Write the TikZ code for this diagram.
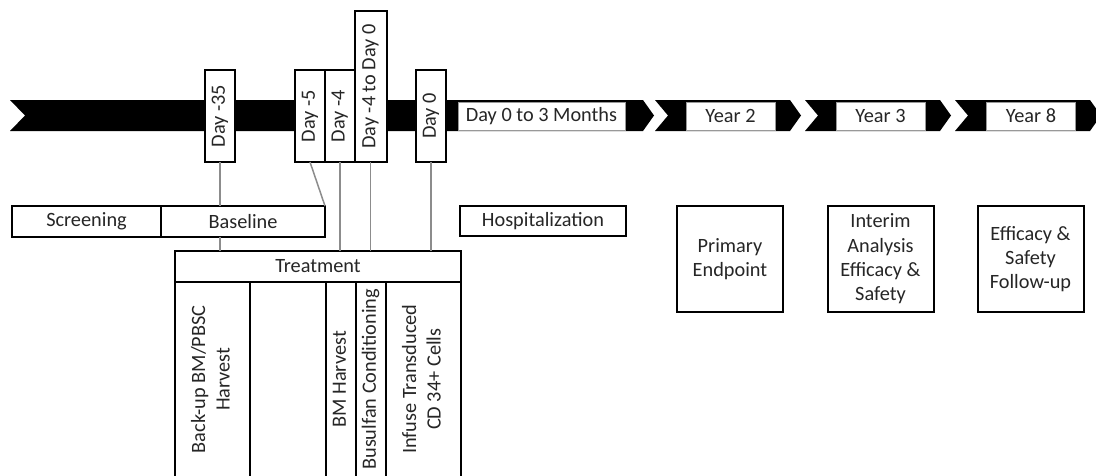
\documentclass[tikz,border=0pt]{standalone}
\usepackage{fontspec}
\setmainfont{Carlito}
\usepackage{graphicx}
\usetikzlibrary{positioning}

\newcommand{\vtext}[1]{\rotatebox{90}{\begin{tabular}{@{}c@{}}#1\end{tabular}}}

\begin{document}
\begin{tikzpicture}[x=1pt, y=-1pt,
    every node/.style={font=\fontsize{20.3}{24.3}\selectfont, text=black!85, inner sep=0pt},
    box/.style={draw, line width=2pt, outer sep=0pt, fill=white, minimum height=30pt},
    daybox/.style={box, minimum width=30pt, minimum height=92pt},
    bandbox/.style={draw=black!40, line width=1pt, fill=white, minimum height=28pt},
    col/.style={box, minimum height=194.5pt, anchor=north},
    link/.style={draw=black!45, line width=1.5pt}]
    \useasboundingbox (0,0) rectangle (1096,475);
    \fill (10,100) -- (643,100) -- (654,115.5) -- (643,131) -- (10,131) -- (25,115.5) -- cycle;
    \foreach \a in {655,805,955}
        \fill (\a,100) -- (\a+135,100) -- (\a+146,115.5) -- (\a+135,131) -- (\a,131) -- (\a+13,115.5) -- cycle;
    \node[bandbox, minimum width=167pt] (months) at (541.5,116) {Day 0 to 3 Months};
    \foreach \x/\y in {730.5/2, 880.5/3, 1031/8}
        \node[bandbox, minimum width=89pt] (year\y) at (\x,116) {Year \y};

    \node[daybox] (d35) at (220,116) {\rotatebox{90}{Day -35}};
    \node[daybox] (d5) at (310,116) {\rotatebox{90}{Day -5}};
    \node[daybox, minimum width=29.5pt, right=0pt of d5] (d4) {\rotatebox{90}{Day -4}};
    \node[daybox, minimum width=32pt, minimum height=151pt, anchor=south west] (d40) at (d4.south east) {\rotatebox{90}{Day -4 to Day 0}};
    \node[daybox] (d0) at (431,116) {\rotatebox{90}{Day 0}};

    \node[box, minimum width=149pt, minimum height=31pt] (screening) at (86.5,221.5) {Screening};
    \node[box, minimum width=164pt, minimum height=31pt, right=0pt of screening] (baseline) {Baseline};
    \node[box, minimum width=166pt] (hosp) at (543,221) {Hospitalization};
    \node[box, minimum size=106pt, align=center] (primary) at (730,259) {Primary\\Endpoint};
    \node[box, minimum size=106pt, align=center] (interim) at (880.5,259) {Interim\\Analysis\\Efficacy \&\\Safety};
    \node[box, minimum size=106pt, align=center] (efficacy) at (1030.5,259) {Efficacy \&\\Safety\\Follow-up};

    \node[box, minimum width=286pt, minimum height=31pt] (treat) at (318,266.5) {Treatment};
    \node[col, minimum width=75pt, anchor=north west] (c1) at (treat.south west) {\vtext{Back-up BM/PBSC\\Harvest}};
    \node[col, minimum width=76pt, right=0pt of c1] (c2) {};
    \node[col, minimum width=30pt, right=0pt of c2] (c3) {\vtext{BM Harvest}};
    \node[col, minimum width=30pt, right=0pt of c3] (c4) {\vtext{Busulfan Conditioning}};
    \node[col, minimum width=75pt, right=0pt of c4] (c5) {\vtext{Infuse Transduced\\CD 34+ Cells}};

    \draw[link] (d35.south) -- (baseline.north -| d35.south);
    \draw[link] (baseline.south -| d35.south) -- (treat.north -| d35.south);
    \draw[link] (d5.south) -- (baseline.north east);
    \draw[link] (d4.south) -- (treat.north -| d4.south);
    \draw[link] (d40.south) -- (treat.north -| d40.south);
    \draw[link] (d0.south) -- (treat.north -| d0.south);
\end{tikzpicture}
\end{document}
